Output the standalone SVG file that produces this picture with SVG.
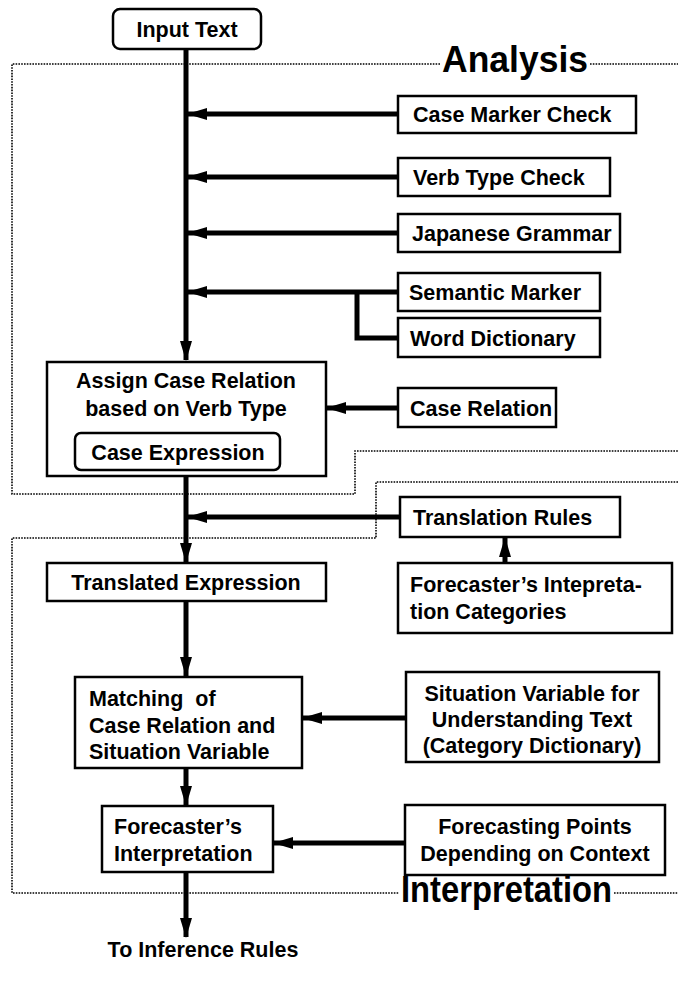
<svg xmlns="http://www.w3.org/2000/svg" width="678" height="986" viewBox="0 0 678 986">
  <style>
    .box { fill: #fff; stroke: #000; stroke-width: 2.5; }
    .lbl { font-family: "Liberation Sans", Arial, sans-serif; font-weight: bold; font-size: 21.5px; fill: #000; }
    .mid { text-anchor: middle; }
    .pre { white-space: pre; }
    .big { font-family: "Liberation Sans", Arial, sans-serif; font-weight: bold; font-size: 37px; fill: #000; }
    .wire { fill: none; stroke: #000; stroke-width: 5; }
    .dots { fill: none; stroke: #000; stroke-width: 1.6; stroke-dasharray: 1.6 1.2; }
  </style>
  <defs>
    <marker id="head" viewBox="0 0 20 12" refX="19" refY="6" markerWidth="20" markerHeight="12" markerUnits="userSpaceOnUse" orient="auto">
      <path d="M0,0 L20,6 L0,12 z" fill="#000"/>
    </marker>
  </defs>

  <rect width="678" height="986" fill="#fff"/>

  <!-- stage boundaries -->
  <g id="stages">
    <path class="dots" d="M440,64 H12 V494 H355 V451 H678"/>
    <path class="dots" d="M590,64 H678"/>
    <text class="big" x="442" y="72" textLength="146" lengthAdjust="spacingAndGlyphs">Analysis</text>
    <path class="dots" d="M678,482 H376 V538 H12 V893 H399"/>
    <path class="dots" d="M614,893 H678"/>
    <text class="big" x="401" y="902" textLength="211" lengthAdjust="spacingAndGlyphs">Interpretation</text>
  </g>

  <!-- connectors -->
  <g id="connectors">
    <path class="wire" d="M186,49 V360" marker-end="url(#head)"/>
    <path class="wire" d="M398,114 H188" marker-end="url(#head)"/>
    <path class="wire" d="M398,177 H188" marker-end="url(#head)"/>
    <path class="wire" d="M398,233 H188" marker-end="url(#head)"/>
    <path class="wire" d="M398,292 H188" marker-end="url(#head)"/>
    <path class="wire" d="M398,338 H357 V292"/>
    <path class="wire" d="M398,408 H327" marker-end="url(#head)"/>
    <path class="wire" d="M186,476 V562" marker-end="url(#head)"/>
    <path class="wire" d="M400,517 H188" marker-end="url(#head)"/>
    <path class="wire" d="M505,563 V538" marker-end="url(#head)"/>
    <path class="wire" d="M186,601 V676" marker-end="url(#head)"/>
    <path class="wire" d="M406,718 H303" marker-end="url(#head)"/>
    <path class="wire" d="M186,768 V805" marker-end="url(#head)"/>
    <path class="wire" d="M405,843 H274" marker-end="url(#head)"/>
    <path class="wire" d="M186,872 V937" marker-end="url(#head)"/>
  </g>

  <g id="input-text">
    <rect class="box" x="113" y="9" width="148" height="40" rx="7"/>
    <text class="lbl mid" x="187" y="37">Input Text</text>
  </g>

  <g id="case-marker-check">
    <rect class="box" x="398" y="96" width="238" height="37"/>
    <text class="lbl" x="413" y="122">Case Marker Check</text>
  </g>

  <g id="verb-type-check">
    <rect class="box" x="398" y="158" width="212" height="38"/>
    <text class="lbl" x="413" y="185">Verb Type Check</text>
  </g>

  <g id="japanese-grammar">
    <rect class="box" x="398" y="214" width="222" height="38"/>
    <text class="lbl" x="412" y="241">Japanese Grammar</text>
  </g>

  <g id="semantic-marker">
    <rect class="box" x="398" y="273" width="202" height="38"/>
    <text class="lbl" x="409" y="300">Semantic Marker</text>
  </g>

  <g id="word-dictionary">
    <rect class="box" x="398" y="318" width="202" height="39"/>
    <text class="lbl" x="410" y="346">Word Dictionary</text>
  </g>

  <g id="assign-case-relation">
    <rect class="box" x="47" y="362" width="279" height="114"/>
    <text class="lbl mid" x="186" y="388">Assign Case Relation</text>
    <text class="lbl mid" x="186" y="416">based on Verb Type</text>
    <rect class="box" x="75" y="433" width="205" height="37" rx="6"/>
    <text class="lbl mid" x="178" y="460">Case Expression</text>
  </g>

  <g id="case-relation">
    <rect class="box" x="398" y="388" width="158" height="39"/>
    <text class="lbl" x="410" y="416">Case Relation</text>
  </g>

  <g id="translation-rules">
    <rect class="box" x="400" y="497" width="220" height="40"/>
    <text class="lbl" x="413" y="525">Translation Rules</text>
  </g>

  <g id="interpretation-categories">
    <rect class="box" x="398" y="563" width="274" height="70"/>
    <text class="lbl" x="410" y="592">Forecaster’s Intepreta-</text>
    <text class="lbl" x="410" y="619">tion Categories</text>
  </g>

  <g id="translated-expression">
    <rect class="box" x="47" y="563" width="279" height="38"/>
    <text class="lbl mid" x="186" y="590">Translated Expression</text>
  </g>

  <g id="matching">
    <rect class="box" x="75" y="677" width="227" height="91"/>
    <text class="lbl pre" x="89" y="706">Matching  of</text>
    <text class="lbl" x="89" y="733">Case Relation and</text>
    <text class="lbl" x="89" y="759">Situation Variable</text>
  </g>

  <g id="situation-variable">
    <rect class="box" x="406" y="672" width="253" height="90"/>
    <text class="lbl mid" x="532" y="701">Situation Variable for</text>
    <text class="lbl mid" x="532" y="727">Understanding Text</text>
    <text class="lbl mid" x="532" y="753">(Category Dictionary)</text>
  </g>

  <g id="forecasters-interpretation">
    <rect class="box" x="102" y="806" width="171" height="66"/>
    <text class="lbl" x="114" y="834">Forecaster’s</text>
    <text class="lbl" x="114" y="861">Interpretation</text>
  </g>

  <g id="forecasting-points">
    <rect class="box" x="405" y="805" width="260" height="70"/>
    <text class="lbl mid" x="535" y="834">Forecasting Points</text>
    <text class="lbl mid" x="535" y="861">Depending on Context</text>
  </g>

  <g id="to-inference-rules">
    <text class="lbl mid" x="203" y="957">To Inference Rules</text>
  </g>
</svg>
